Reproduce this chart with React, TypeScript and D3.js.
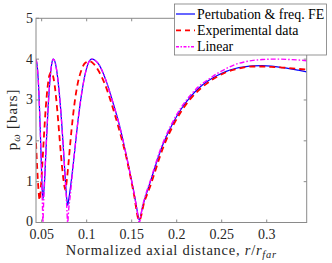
import * as d3 from "d3";

const W = 332;
const H = 263;
const margin = { top: 18.3, right: 25.3, bottom: 40.5, left: 36 };

// radial distance r / r_far and pressure amplitude [bars]
const feR = [0.0437, 0.0452, 0.0468, 0.0483, 0.0495, 0.0504, 0.051, 0.0515, 0.0521, 0.0531, 0.0549, 0.0572, 0.0595, 0.0612, 0.0629, 0.0653, 0.0677, 0.0709, 0.0741, 0.0765, 0.0778, 0.0789, 0.08, 0.0816, 0.0856, 0.0896, 0.0936, 0.0976, 0.1016, 0.1056, 0.1135, 0.1214, 0.1294, 0.1373, 0.1452, 0.1531, 0.156, 0.1584, 0.162, 0.166, 0.1703, 0.176, 0.1814, 0.188, 0.1962, 0.205, 0.215, 0.225, 0.235, 0.245, 0.255, 0.265, 0.275, 0.285, 0.295, 0.305, 0.315, 0.325, 0.335, 0.3444];
const feP = [4.0, 3.8, 3.24, 2.35, 1.53, 0.9, 0.65, 0.58, 0.68, 0.98, 1.82, 2.83, 3.56, 3.89, 4.0, 3.89, 3.56, 2.83, 1.82, 0.98, 0.6, 0.42, 0.55, 0.8, 1.53, 2.35, 3.04, 3.56, 3.89, 4.0, 3.87, 3.48, 2.92, 2.3, 1.52, 0.66, 0.3, 0.06, 0.38, 0.68, 0.97, 1.36, 1.72, 2.08, 2.45, 2.78, 3.07, 3.3, 3.47, 3.6, 3.7, 3.77, 3.81, 3.835, 3.84, 3.83, 3.8, 3.77, 3.73, 3.69];

const expR = [0.0437, 0.045, 0.0463, 0.0478, 0.0492, 0.0508, 0.0525, 0.0545, 0.0565, 0.0585, 0.0605, 0.0625, 0.0645, 0.0665, 0.0685, 0.0705, 0.0725, 0.0745, 0.0762, 0.078, 0.08, 0.082, 0.0845, 0.087, 0.09, 0.094, 0.098, 0.103, 0.108, 0.113, 0.12, 0.128, 0.136, 0.144, 0.152, 0.1584, 0.164, 0.17, 0.176, 0.1814, 0.188, 0.1962, 0.205, 0.215, 0.225, 0.235, 0.245, 0.255, 0.265, 0.275, 0.285, 0.295, 0.305, 0.315, 0.325, 0.335, 0.343];
const expP = [1.95, 1.35, 0.85, 0.55, 0.9, 1.45, 2.1, 2.8, 3.3, 3.6, 3.68, 3.6, 3.35, 2.95, 2.45, 1.9, 1.4, 1.0, 0.8, 1.05, 1.5, 2.0, 2.55, 3.0, 3.4, 3.72, 3.9, 3.95, 3.88, 3.72, 3.4, 2.88, 2.28, 1.6, 0.75, 0.05, 0.5, 0.85, 1.25, 1.62, 2.0, 2.38, 2.72, 3.02, 3.25, 3.43, 3.57, 3.68, 3.75, 3.8, 3.82, 3.82, 3.81, 3.8, 3.78, 3.76, 3.75];

const linR = [0.0437, 0.0452, 0.0468, 0.0483, 0.0495, 0.0504, 0.0509, 0.0514, 0.052, 0.0531, 0.0549, 0.0572, 0.0595, 0.0612, 0.0629, 0.0653, 0.0677, 0.0709, 0.0741, 0.0765, 0.0777, 0.0789, 0.08, 0.0816, 0.0856, 0.0896, 0.0936, 0.0976, 0.1016, 0.1056, 0.1135, 0.1214, 0.1294, 0.1373, 0.1452, 0.1531, 0.156, 0.1584, 0.162, 0.166, 0.1703, 0.176, 0.1814, 0.188, 0.1962, 0.205, 0.215, 0.225, 0.235, 0.245, 0.255, 0.265, 0.275, 0.285, 0.295, 0.305, 0.315, 0.325, 0.335, 0.3444];
const linP = [4.0, 3.8, 3.24, 2.35, 1.53, 0.81, 0.38, 0.0, 0.4, 0.94, 1.82, 2.83, 3.56, 3.89, 4.0, 3.89, 3.56, 2.83, 1.82, 0.94, 0.47, 0.0, 0.32, 0.63, 1.53, 2.35, 3.04, 3.56, 3.89, 4.0, 3.87, 3.48, 2.92, 2.3, 1.52, 0.66, 0.3, 0.0, 0.4, 0.72, 1.0, 1.4, 1.76, 2.12, 2.49, 2.82, 3.11, 3.34, 3.5, 3.65, 3.77, 3.87, 3.93, 3.97, 3.99, 4.0, 4.0, 3.99, 3.98, 3.96];

const xTicks = [0.05, 0.1, 0.15, 0.2, 0.25, 0.3];
const yTicks = [0, 1, 2, 3, 4, 5];

const series = [
  { name: "Pertubation & freq. FE", r: feR, p: feP, color: "#0000ff", width: 1.2, dash: "none", key: "none" },
  { name: "Experimental data", r: expR, p: expP, color: "#ff0000", width: 1.8, dash: "6,4", key: "5,4" },
  { name: "Linear", r: linR, p: linP, color: "#ff00ff", width: 1.4, dash: "5,2,1.5,2", key: "3,1.5,1.5,1.5" },
];

export default function App() {
  const x = d3.scaleLinear().domain([0.0437, 0.3444]).range([margin.left, W - margin.right]);
  const y = d3.scaleLinear().domain([0, 5]).range([H - margin.bottom, margin.top]);
  const line = d3.line<[number, number]>()
    .x(d => x(d[0]))
    .y(d => y(d[1]))
    .curve(d3.curveMonotoneX);

  const x0 = margin.left, x1 = W - margin.right;
  const y0 = H - margin.bottom, y1 = margin.top;
  const axisColor = "#8a8a8a";
  const font = "Liberation Serif, DejaVu Serif, Times New Roman, serif";

  return (
    <svg width={W} height={H} style={{ position: "absolute", left: 0, top: 0, background: "#fff", fontFamily: font }}>
      <defs>
        <clipPath id="plot">
          <rect x={x0} y={y1} width={x1 - x0} height={y0 - y1} />
        </clipPath>
      </defs>

      <g clipPath="url(#plot)">
        {series.map(s => (
          <path key={s.name} d={line(d3.zip(s.r, s.p) as [number, number][]) || ""} fill="none"
            stroke={s.color} strokeWidth={s.width} strokeDasharray={s.dash} />
        ))}
      </g>

      {/* box + ticks */}
      <rect x={x0} y={y1} width={x1 - x0} height={y0 - y1} fill="none" stroke={axisColor} strokeWidth={1} />
      {xTicks.map(t => (
        <g key={t}>
          <line x1={x(t)} x2={x(t)} y1={y0} y2={y0 - 3} stroke={axisColor} />
          <line x1={x(t)} x2={x(t)} y1={y1} y2={y1 + 3} stroke={axisColor} />
          <text x={x(t)} y={238.5} textAnchor="middle" fontSize={14} fill="#262626">{t}</text>
        </g>
      ))}
      {yTicks.map(t => (
        <g key={t}>
          <line x1={x0} x2={x0 + 3} y1={y(t)} y2={y(t)} stroke={axisColor} />
          <line x1={x1} x2={x1 - 3} y1={y(t)} y2={y(t)} stroke={axisColor} />
          <text x={33} y={y(t) + (t === 0 ? 3.5 : 4.5)} textAnchor="end" fontSize={14} fill="#262626">{t}</text>
        </g>
      ))}

      <text transform={`translate(17,${(y0 + y1) / 2 - 1}) rotate(-90)`} textAnchor="middle" fontSize={15} letterSpacing={0.9} fill="#262626">
        p<tspan fontSize={10.5} fontStyle="italic" dy={3}>ω</tspan><tspan dy={-3}> [bars]</tspan>
      </text>
      <text x={(x0 + x1) / 2} y={255} textAnchor="middle" fontSize={14.5} letterSpacing={0.75} fill="#262626">
        Normalized axial distance, <tspan fontStyle="italic">r</tspan>/<tspan fontStyle="italic">r</tspan>
        <tspan fontSize={10.5} fontStyle="italic" dy={3}>far</tspan>
      </text>

      {/* legend */}
      <rect x={174.5} y={4} width={152} height={51} fill="#fff" stroke="#7a7a7a" strokeWidth={0.8} />
      {series.map((s, i) => (
        <g key={s.name} transform={`translate(176,${14 + i * 16.4})`}>
          <line x1={0} x2={19} y1={0} y2={0} stroke={s.color} strokeWidth={s.width} strokeDasharray={s.key} />
          <text x={21} y={4.5} fontSize={13.9} fill="#000">{s.name}</text>
        </g>
      ))}
    </svg>
  );
}
